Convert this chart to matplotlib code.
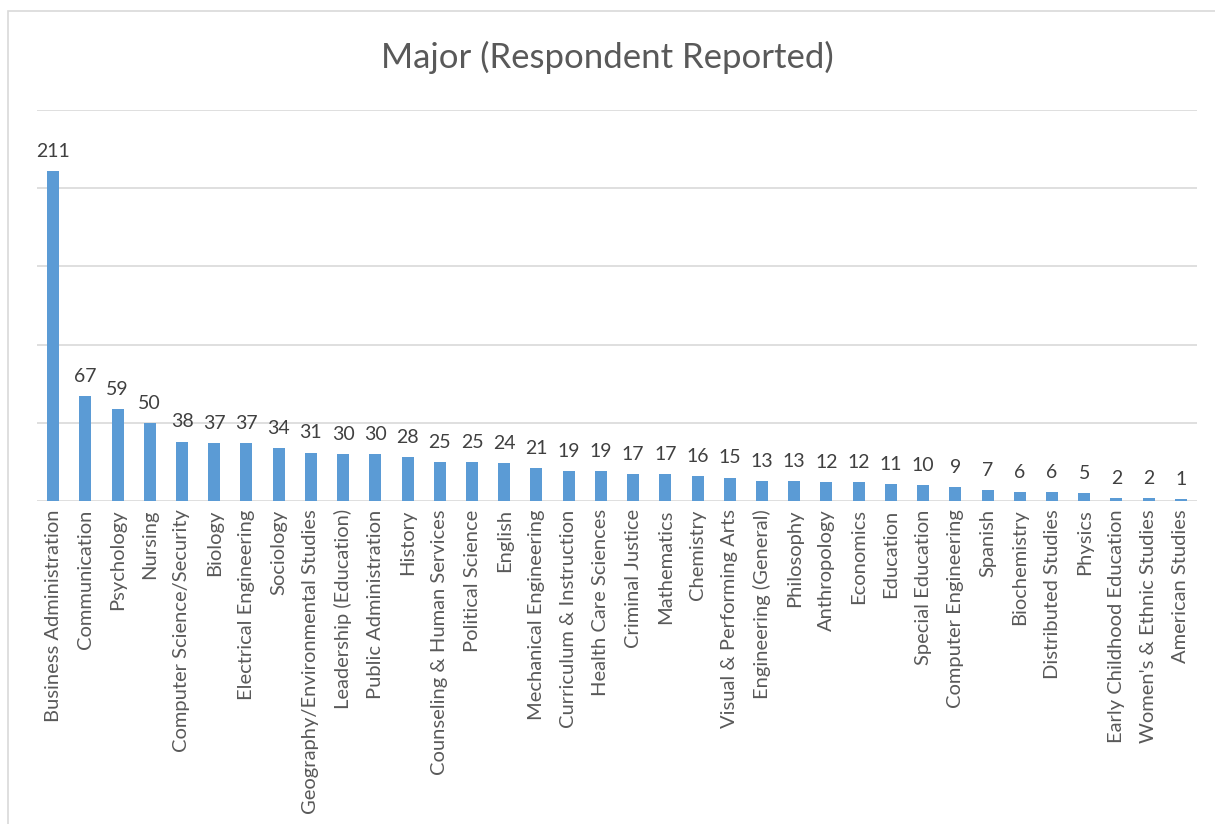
import matplotlib
matplotlib.use("Agg")
import matplotlib.pyplot as plt
from matplotlib.patches import Rectangle

plt.rcParams['font.family'] = ['Lato', 'DejaVu Sans']

categories = [
    "Business Administration", "Communication", "Psychology", "Nursing",
    "Computer Science/Security", "Biology", "Electrical Engineering", "Sociology",
    "Geography/Environmental Studies", "Leadership (Education)", "Public Administration",
    "History", "Counseling & Human Services", "Political Science", "English",
    "Mechanical Engineering", "Curriculum & Instruction", "Health Care Sciences",
    "Criminal Justice", "Mathematics", "Chemistry", "Visual & Performing Arts",
    "Engineering (General)", "Philosophy", "Anthropology", "Economics", "Education",
    "Special Education", "Computer Engineering", "Spanish", "Biochemistry",
    "Distributed Studies", "Physics", "Early Childhood Education",
    "Women's & Ethnic Studies", "American Studies",
]
values = [211, 67, 59, 50, 38, 37, 37, 34, 31, 30, 30, 28, 25, 25, 24, 21, 19, 19,
          17, 17, 16, 15, 13, 13, 12, 12, 11, 10, 9, 7, 6, 6, 5, 2, 2, 1]
title = "Major (Respondent Reported)"

W, H = 1215, 824
fig = plt.figure(figsize=(W / 100, H / 100), dpi=100)
fig.patch.set_facecolor("white")

# chart frame
fig.patches.append(Rectangle((8 / W, -0.1), 1.2, 1 - 11 / H + 0.1,
                             transform=fig.transFigure, fill=False,
                             edgecolor="#D9D9D9", linewidth=1.2, zorder=0))

ax = fig.add_axes([37 / W, 1 - 501 / H, (1197 - 37) / W, (501 - 110) / H])
x = list(range(len(categories)))
bars = ax.bar(x, values, width=0.37, color="#5B9BD5", zorder=3)
ax.set_xlim(-0.5, len(categories) - 0.5)
ax.set_ylim(0, 250)
ax.set_yticks([0, 50, 100, 150, 200, 250])
ax.yaxis.grid(True, color="#D9D9D9", linewidth=1.2, zorder=0)
ax.set_yticklabels([])
ax.tick_params(axis="y", length=0)
ax.tick_params(axis="x", length=0, pad=6)
for s in ax.spines.values():
    s.set_visible(False)
ax.set_xticks(x)
ax.set_xticklabels(categories, rotation=90, fontsize=14.5, color="#595959")
for xi, v in zip(x, values):
    ax.annotate(str(v), (xi, v), xytext=(0, 8), textcoords="offset points",
                ha="center", va="bottom", fontsize=14, color="#404040")

fig.text(0.5, 1 - 57 / H, title, ha="center", va="center", fontsize=25, color="#595959")

fig.savefig("out.png", dpi=100)
